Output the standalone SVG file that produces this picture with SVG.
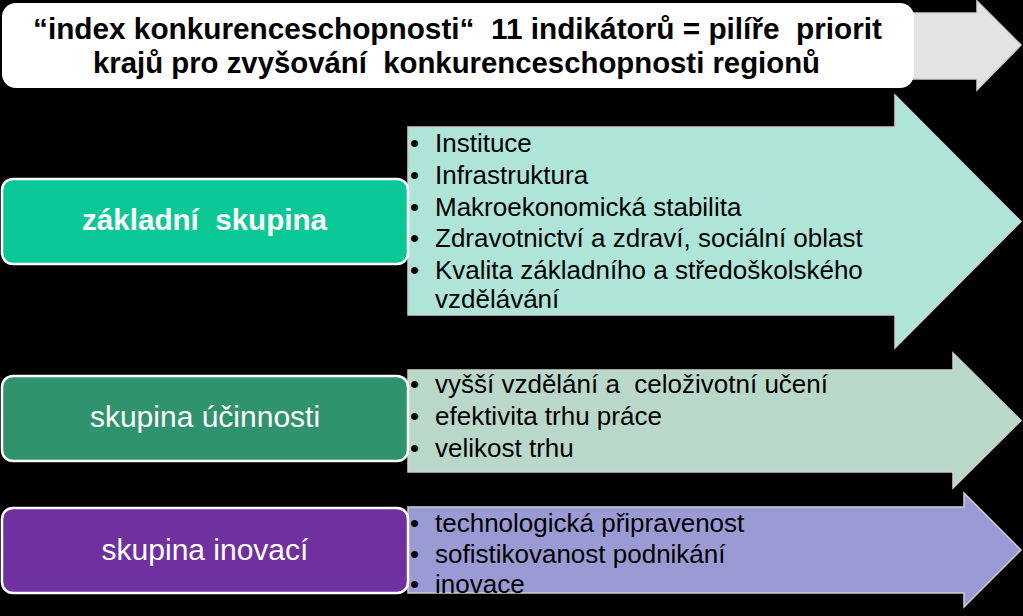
<svg xmlns="http://www.w3.org/2000/svg" width="1023" height="616" viewBox="0 0 1023 616" xml:space="preserve">
  <style>
    text { white-space: pre; }
    .arrow { stroke: #CFCFCF; stroke-width: 1.5; stroke-linejoin: miter; }
    .box { stroke: #FFFFFF; stroke-width: 2.5; }
    .title { font-family: "Liberation Sans", Arial, sans-serif; font-weight: bold; font-size: 29.7px; fill: #000000; text-anchor: middle; }
    .lbl { font-family: "Liberation Sans", Arial, sans-serif; font-size: 30px; fill: #FFFFFF; text-anchor: middle; }
    .lblb { font-family: "Liberation Sans", Arial, sans-serif; font-weight: bold; font-size: 29px; fill: #FFFFFF; text-anchor: middle; }
    .item { font-family: "Liberation Sans", Arial, sans-serif; font-size: 26px; fill: #000000; }
  </style>
  <rect x="0" y="0" width="1023" height="616" fill="#000000"/>

  <g id="connectors">
    <path id="arrow-top" class="arrow" fill="#E3E3E3" d="M890,13 L977,13 L977,1 L1021,45 L977,90 L977,79 L890,79 Z"/>
    <path id="arrow-basic" class="arrow" fill="#AEE5D8" d="M408,127 L895,127 L895,95 L1021,221.5 L895,348 L895,315 L408,315 Z"/>
    <path id="arrow-efficiency" class="arrow" fill="#BAD8CA" d="M408,370 L953,370 L953,353 L1021,420.5 L953,488 L953,472 L408,472 Z"/>
    <path id="arrow-innovation" class="arrow" fill="#9A9AD4" d="M408,507 L964,507 L964,493 L1021,550 L964,607 L964,593 L408,593 Z"/>
  </g>

  <g id="node-title">
    <rect x="2" y="3" width="912" height="85" rx="14" ry="14" fill="#FFFFFF"/>
    <text class="title" x="457.5" y="39" textLength="849" lengthAdjust="spacingAndGlyphs">“index konkurenceschopnosti“  11 indikátorů = pilíře  priorit</text>
    <text class="title" x="456.5" y="73" textLength="727" lengthAdjust="spacingAndGlyphs">krajů pro zvyšování  konkurenceschopnosti regionů</text>
  </g>

  <g id="node-zakladni">
    <rect class="box" x="2" y="179" width="406" height="85" rx="11" ry="11" fill="#0AC896"/>
    <text class="lblb" x="204.5" y="230" textLength="245" lengthAdjust="spacingAndGlyphs">základní  skupina</text>
  </g>

  <g id="list-zakladni" class="item">
    <text x="410" y="152">•</text><text x="435" y="152">Instituce</text>
    <text x="410" y="184">•</text><text x="435" y="184">Infrastruktura</text>
    <text x="410" y="216">•</text><text x="435" y="216">Makroekonomická stabilita</text>
    <text x="410" y="247">•</text><text x="435" y="247">Zdravotnictví a zdraví, sociální oblast</text>
    <text x="410" y="279">•</text><text x="435" y="279">Kvalita základního a středoškolského</text>
    <text x="435" y="308">vzdělávání</text>
  </g>

  <g id="node-ucinnost">
    <rect class="box" x="2" y="376" width="406" height="85" rx="11" ry="11" fill="#2F936D"/>
    <text class="lbl" x="205" y="427">skupina účinnosti</text>
  </g>

  <g id="list-ucinnost" class="item">
    <text x="410" y="393">•</text><text x="435" y="393" textLength="393" lengthAdjust="spacingAndGlyphs">vyšší vzdělání a  celoživotní učení</text>
    <text x="410" y="425">•</text><text x="435" y="425">efektivita trhu práce</text>
    <text x="410" y="457">•</text><text x="435" y="457">velikost trhu</text>
  </g>

  <g id="node-inovace">
    <rect class="box" x="2" y="508" width="406" height="85" rx="11" ry="11" fill="#7030A0"/>
    <text class="lbl" x="205" y="560">skupina inovací</text>
  </g>

  <g id="list-inovace" class="item">
    <text x="410" y="532">•</text><text x="435" y="532">technologická připravenost</text>
    <text x="410" y="563">•</text><text x="435" y="563">sofistikovanost podnikání</text>
    <text x="410" y="593">•</text><text x="435" y="593">inovace</text>
  </g>
</svg>
